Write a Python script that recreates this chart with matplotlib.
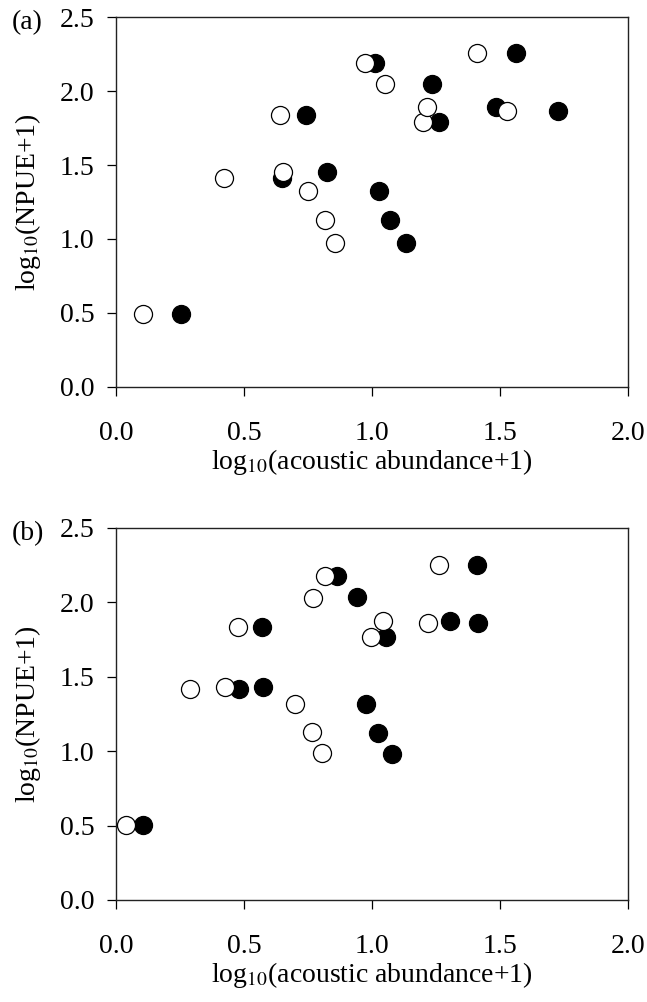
import matplotlib
matplotlib.use("Agg")
import matplotlib.pyplot as plt

plt.rcParams['font.family'] = ['Liberation Serif', 'DejaVu Serif']
plt.rcParams['mathtext.fontset'] = 'stix'

# Panel (a): open and filled circles
a_open_x = [0.105, 0.42, 0.64, 0.652, 0.75, 0.816, 0.855, 0.973, 1.05, 1.20,
            1.215, 1.41, 1.527]
a_open_y = [0.49, 1.41, 1.84, 1.45, 1.325, 1.13, 0.975, 2.19, 2.05, 1.79,
            1.89, 2.26, 1.866]
a_fill_x = [0.254, 0.648, 0.742, 0.824, 1.027, 1.07, 1.133, 1.01, 1.234,
            1.262, 1.5625, 1.484, 1.727]
a_fill_y = [0.49, 1.41, 1.84, 1.45, 1.325, 1.13, 0.975, 2.19, 2.05, 1.79,
            2.26, 1.89, 1.866]

# Panel (b)
b_open_x = [0.039, 0.289, 0.426, 0.477, 0.70, 0.766, 0.805, 0.77, 0.816,
            0.996, 1.043, 1.22, 1.262]
b_open_y = [0.503, 1.418, 1.43, 1.835, 1.317, 1.128, 0.987, 2.03, 2.177,
            1.77, 1.875, 1.86, 2.25]
b_fill_x = [0.105, 0.48, 0.574, 0.57, 0.977, 1.023, 1.078, 0.94, 0.863,
            1.055, 1.305, 1.414, 1.41]
b_fill_y = [0.503, 1.418, 1.43, 1.835, 1.317, 1.12, 0.98, 2.036, 2.177,
            1.77, 1.875, 1.86, 2.25]

x_ticks = [0.0, 0.5, 1.0, 1.5, 2.0]
y_ticks = [0.0, 0.5, 1.0, 1.5, 2.0, 2.5]

panels = [
    ('(a)', a_open_x, a_open_y, a_fill_x, a_fill_y, 0.6138, 0.9830),
    ('(b)', b_open_x, b_open_y, b_fill_x, b_fill_y, 0.1018, 0.4731),
]

fig = plt.figure(figsize=(6.47, 10.02), dpi=100)
left, right = 116 / 647, 628 / 647

for label, ox, oy, fx, fy, bottom, top in panels:
    ax = fig.add_axes([left, bottom, right - left, top - bottom])
    ax.scatter(fx, fy, s=169, facecolor='black', edgecolor='black',
               linewidths=0.9, zorder=2, clip_on=False)
    ax.scatter(ox, oy, s=169, facecolor='white', edgecolor='black',
               linewidths=0.9, zorder=3, clip_on=False)
    ax.set_xlim(0, 2.0)
    ax.set_ylim(0, 2.5)
    ax.set_xticks(x_ticks)
    ax.set_yticks(y_ticks)
    ax.set_xticklabels(['%.1f' % v for v in x_ticks])
    ax.set_yticklabels(['%.1f' % v for v in y_ticks])
    ax.tick_params(direction='out', length=6.5, width=0.9, labelsize=20)
    ax.tick_params(axis='x', pad=18)
    ax.tick_params(axis='y', pad=9)
    for sp in ax.spines.values():
        sp.set_linewidth(1.0)
        sp.set_color('#222222')
    ax.set_xlabel(r'log$_{10}$(acoustic abundance+1)', fontsize=20,
                  labelpad=1)
    ax.set_ylabel(r'log$_{10}$(NPUE+1)', fontsize=20, labelpad=12)
    ax.text(-0.203, 0.986, label, transform=ax.transAxes, fontsize=20,
            ha='left', va='center')

fig.savefig('out.png', dpi=100)
